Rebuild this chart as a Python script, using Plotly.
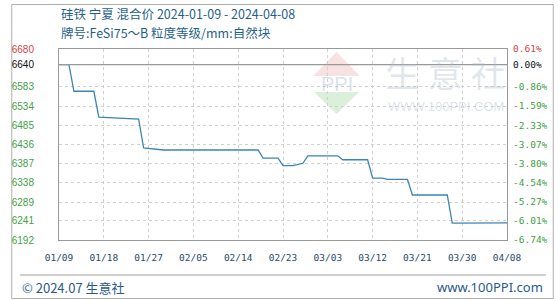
import plotly.graph_objects as go

# ---- data ----
dates = ['2024-01-09', '2024-01-11', '2024-01-12', '2024-01-16', '2024-01-17',
         '2024-01-25', '2024-01-26', '2024-01-30', '2024-02-18', '2024-02-19',
         '2024-02-22', '2024-02-23', '2024-02-25', '2024-02-27', '2024-02-28',
         '2024-03-05', '2024-03-06', '2024-03-11', '2024-03-12', '2024-03-14',
         '2024-03-15', '2024-03-19', '2024-03-20', '2024-03-27', '2024-03-28',
         '2024-04-01', '2024-04-02', '2024-04-08']
prices = [6640, 6640, 6572, 6572, 6506,
          6501, 6427, 6422, 6422, 6401,
          6401, 6382, 6382, 6388, 6407,
          6407, 6397, 6397, 6350, 6350,
          6347, 6347, 6307, 6307, 6235,
          6235, 6236, 6236]

y_ticks = [6192, 6241, 6289, 6338, 6387, 6436, 6485, 6534, 6583, 6640, 6680]
pct_labels = ['-6.74%', '-6.01%', '-5.27%', '-4.54%', '-3.80%', '-3.07%',
              '-2.33%', '-1.59%', '-0.86%', '0.00%', '0.61%']
x_ticks = ['2024-01-09', '2024-01-18', '2024-01-27', '2024-02-05', '2024-02-14',
           '2024-02-23', '2024-03-03', '2024-03-12', '2024-03-21', '2024-03-30',
           '2024-04-08']
x_labels = ['01/09', '01/18', '01/27', '02/05', '02/14', '02/23', '03/03',
            '03/12', '03/21', '03/30', '04/08']
base_price = 6640
title1 = '硅铁 宁夏 混合价 2024-01-09 - 2024-04-08'
title2 = '牌号:FeSi75～B 粒度等级/mm:自然块'

RED = '#d04545'
GREEN = '#3f9f45'
BLACK = '#111111'


def colored(label, v):
    if v > base_price:
        c = RED
    elif v == base_price:
        c = BLACK
    else:
        c = GREEN
    return f'<span style="color:{c}">{label}</span>'


left_text = [colored(str(v), v) for v in y_ticks]
right_text = [colored(p, v) for p, v in zip(pct_labels, y_ticks)]

W, H = 560, 300
L, R, T, B = 50, 510, 49, 240


def px(x):
    return (x - L) / (R - L)


def py(y):
    return (B - y) / (B - T)


fig = go.Figure()
fig.add_trace(go.Scatter(x=dates, y=prices, mode='lines',
                         line=dict(color='#3b85b5', width=1.3),
                         hoverinfo='skip', showlegend=False))
fig.add_trace(go.Scatter(x=dates, y=prices, mode='lines', yaxis='y2',
                         line=dict(color='rgba(0,0,0,0)', width=0),
                         hoverinfo='skip', showlegend=False))

yr = [y_ticks[0], y_ticks[-1]]
grid = dict(showgrid=True, gridcolor='#cfcfcf', griddash='dot', gridwidth=1)

fig.update_layout(
    width=W, height=H,
    margin=dict(l=L, r=W - R, t=T, b=H - B),
    paper_bgcolor='white', plot_bgcolor='white',
    xaxis=dict(type='date', range=[x_ticks[0], x_ticks[-1]],
               tickvals=x_ticks, ticktext=x_labels, ticks='',
               tickfont=dict(family='DejaVu Sans Mono', size=9.5, color='#2a4a6a'),
               ticklabelstandoff=9,
               showline=True, linecolor='#999999', linewidth=1, mirror=True,
               zeroline=False, **grid),
    yaxis=dict(range=yr, tickvals=y_ticks, ticktext=left_text, ticks='',
               tickfont=dict(family='Liberation Sans', size=10),
               ticklabelstandoff=22,
               showline=True, linecolor='#999999', linewidth=1, mirror=True,
               zeroline=False, **grid),
    yaxis2=dict(range=yr, overlaying='y', side='right', tickvals=y_ticks,
                ticktext=right_text, ticks='',
                tickfont=dict(family='DejaVu Sans Mono', size=9.5),
                ticklabelstandoff=5, showgrid=False, zeroline=False,
                showline=False),
)

shapes = []
# base price reference line
shapes.append(dict(type='line', xref='paper', yref='y', x0=0, x1=1,
                   y0=base_price, y1=base_price,
                   line=dict(color='#999999', width=1.2)))
# outer frame
shapes.append(dict(type='rect', xref='paper', yref='paper',
                   x0=px(1.5), x1=px(557.5), y0=py(298.5), y1=py(4.5),
                   line=dict(color='#b0b0b0', width=1), layer='below'))
# footer separator
shapes.append(dict(type='line', xref='paper', yref='paper',
                   x0=px(10), x1=px(550), y0=py(275), y1=py(275),
                   line=dict(color='#a0a0a0', width=1)))
# watermark logo: roof (red) and inverted triangle (green)
shapes.append(dict(type='path', xref='paper', yref='paper',
                   path=f'M {px(311)},{py(76)} L {px(335)},{py(52)} L {px(359)},{py(76)} Z',
                   fillcolor='rgba(225,120,120,0.22)', line=dict(width=0), layer='below'))
shapes.append(dict(type='path', xref='paper', yref='paper',
                   path=f'M {px(312)},{py(92)} L {px(358)},{py(92)} L {px(335)},{py(114)} Z',
                   fillcolor='rgba(110,190,110,0.25)', line=dict(width=0), layer='below'))
fig.update_layout(shapes=shapes)

TFONT = 'Noto Sans CJK SC'
ann = []
ann.append(dict(text=title1, xref='paper', yref='paper', x=px(50), y=py(14),
                xanchor='left', yanchor='middle', showarrow=False,
                font=dict(family=TFONT, size=12.5, color='#1f5f8b')))
ann.append(dict(text=title2, xref='paper', yref='paper', x=px(50), y=py(33),
                xanchor='left', yanchor='middle', showarrow=False,
                font=dict(family=TFONT, size=12.5, color='#1f5f8b')))
ann.append(dict(text='© 2024.07 生意社', xref='paper', yref='paper', x=px(10), y=py(287),
                xanchor='left', yanchor='middle', showarrow=False,
                font=dict(family='Noto Sans CJK SC', size=13, color='#2a5a88')))
ann.append(dict(text='www.100PPI.com', xref='paper', yref='paper', x=px(549), y=py(287),
                xanchor='right', yanchor='middle', showarrow=False,
                font=dict(family='Noto Sans', size=13, color='#2a5a88')))
# watermark texts
ann.append(dict(text='PPI', xref='paper', yref='paper', x=px(335), y=py(84),
                xanchor='center', yanchor='middle', showarrow=False,
                font=dict(family='Liberation Sans', size=20, color='rgba(150,170,200,0.35)')))
ann.append(dict(text='生 意 社', xref='paper', yref='paper', x=px(447), y=py(71),
                xanchor='center', yanchor='middle', showarrow=False,
                font=dict(family='Noto Sans CJK SC', size=35, color='rgba(170,185,205,0.35)')))
ann.append(dict(text='WWW.100PPI.COM', xref='paper', yref='paper', x=px(447), y=py(106),
                xanchor='center', yanchor='middle', showarrow=False,
                font=dict(family='Liberation Sans', size=13, color='rgba(170,185,205,0.4)')))
fig.update_layout(annotations=ann)

fig.write_html('out.html')
